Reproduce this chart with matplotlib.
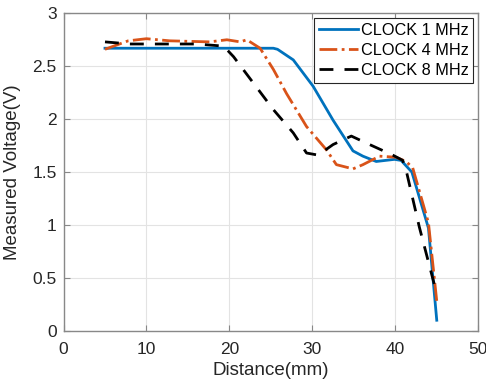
import matplotlib
matplotlib.use("Agg")
import matplotlib.pyplot as plt

plt.rcParams['font.family'] = ['Liberation Sans', 'DejaVu Sans']

x1 = [5.0, 25.3, 25.8, 27.7, 30.1, 32.5, 34.9, 36.1, 37.7, 39.9, 40.7, 42.0, 44.0, 45.0]
y1 = [2.67, 2.67, 2.66, 2.56, 2.31, 1.99, 1.70, 1.65, 1.60, 1.62, 1.61, 1.50, 0.97, 0.10]

x4 = [5.0, 7.8, 10.0, 12.8, 17.6, 19.7, 21.3, 22.1, 23.7, 25.3, 26.9, 29.3, 31.7, 32.9, 34.9, 36.1, 38.1, 40.1, 41.3, 42.1, 44.0, 45.0]
y4 = [2.66, 2.74, 2.76, 2.74, 2.73, 2.75, 2.73, 2.75, 2.67, 2.47, 2.24, 1.93, 1.71, 1.57, 1.53, 1.57, 1.65, 1.64, 1.60, 1.54, 1.02, 0.28]

x8 = [5.0, 8.0, 12.0, 16.0, 19.3, 20.5, 22.9, 25.3, 27.7, 29.3, 30.7, 32.5, 34.7, 36.9, 39.7, 40.9, 41.3, 42.9, 45.0]
y8 = [2.73, 2.71, 2.71, 2.71, 2.69, 2.59, 2.34, 2.09, 1.87, 1.68, 1.66, 1.76, 1.84, 1.76, 1.66, 1.61, 1.52, 0.98, 0.35]

labels = ['CLOCK 1 MHz', 'CLOCK 4 MHz', 'CLOCK 8 MHz']

fig = plt.figure(figsize=(4.86, 3.88), dpi=100)
ax = fig.add_axes([0.1307, 0.1474, 0.984 - 0.1307, 0.9657 - 0.1474])
ax.plot(x1, y1, '-', color='#0072BD', lw=2, label=labels[0])
ax.plot(x4, y4, '-.', color='#D95319', lw=2, label=labels[1])
ax.plot(x8, y8, '--', color='black', lw=2, label=labels[2], dashes=(5, 4))

ax.set_xlim(0, 50)
ax.set_ylim(0, 3)
ax.set_xticks([0, 10, 20, 30, 40, 50])
ax.set_yticks([0, 0.5, 1, 1.5, 2, 2.5, 3])
ax.set_yticklabels(['0', '0.5', '1', '1.5', '2', '2.5', '3'])
ax.grid(True, color='#e3e3e3', lw=0.8)
ax.set_axisbelow(True)
ax.tick_params(direction='in', top=True, right=True, labelsize=12.5, labelcolor='#262626',
               color='#888888', length=4)
ax.tick_params(axis='x', pad=8)
ax.tick_params(axis='y', pad=5)
for s in ax.spines.values():
    s.set_color('#888888')
    s.set_linewidth(1.0)
ax.set_xlabel('Distance(mm)', fontsize=13.5, color='#262626', labelpad=4)
ax.set_ylabel('Measured Voltage(V)', fontsize=13.5, color='#262626', labelpad=8)
leg = ax.legend(loc='upper right', fontsize=11.7, frameon=True, fancybox=False,
                edgecolor='#262626', framealpha=1, borderaxespad=0.3, handlelength=2.4,
                handletextpad=0.15, borderpad=0.3, labelspacing=0.3)
leg.get_frame().set_linewidth(0.8)

fig.savefig('out.png', dpi=100)
